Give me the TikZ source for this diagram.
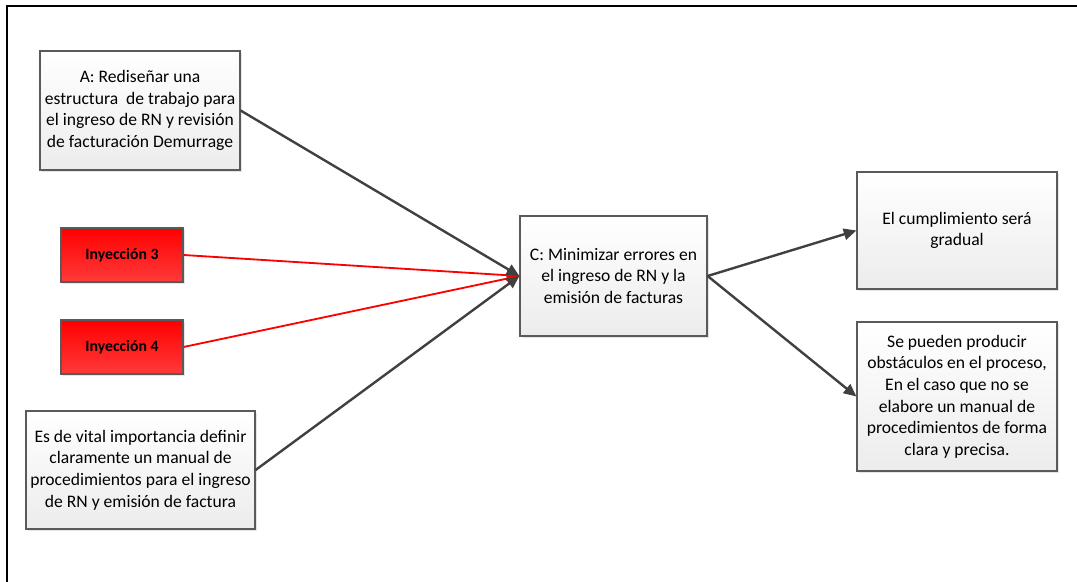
\documentclass[tikz,border=0pt]{standalone}
\usepackage{fontspec}
\setmainfont{Carlito}
\usetikzlibrary{arrows.meta, positioning, shadows}
\definecolor{boxline}{HTML}{5A5A5A}
\definecolor{boxlow}{HTML}{ECECEC}
\definecolor{injtop}{HTML}{FF0000}
\definecolor{injlow}{HTML}{FF3A3A}
\definecolor{arrowgray}{HTML}{404040}

\begin{document}
\begin{tikzpicture}[
    x=0.025cm, y=-0.025cm,
    box/.style={rectangle, draw=boxline, line width=0.8pt,
                top color=white, bottom color=boxlow,
                drop shadow={shadow xshift=1.2pt, shadow yshift=-1.2pt, fill=black!20},
                minimum width=#1, inner sep=2pt, align=center,
                font=\fontsize{12.5}{15.4}\selectfont},
    box/.default=5cm,
    inj/.style={rectangle, draw=boxline, line width=0.8pt,
                top color=injtop, bottom color=injlow,
                drop shadow={shadow xshift=1.2pt, shadow yshift=-1.2pt, fill=black!20},
                minimum width=3.05cm, minimum height=1.35cm,
                font=\fontsize{11.2}{13}\selectfont\bfseries},
    arrow/.style={-{Triangle[length=9pt,width=8pt]}, line width=1.7pt, color=arrowgray},
    redarrow/.style={-{Triangle[length=9pt,width=8pt]}, line width=1.3pt, color=red}
]

\useasboundingbox (0,0) rectangle (1077,582);
\draw[line width=1.6pt] (7,582) -- (7,6) -- (1077,6);

% inputs on the left
\node[box, minimum height=2.975cm] (redesign) at (140,110.5)
    {A: Rediseñar una\\estructura\ \ de trabajo para\\el ingreso de RN y revisión\\de facturación Demurrage};
\node[inj] (inj3) at (122,255) {Inyección 3};
\node[inj] (inj4) at (122,347) {Inyección 4};
\node[box=5.725cm, minimum height=2.95cm] (manual) at (140.5,470)
    {Es de vital importancia definir\\claramente un manual de\\procedimientos para el ingreso\\de RN y emisión de factura};

% goal in the middle
\node[box=4.675cm, minimum height=3cm] (goal) at (613.5,276)
    {C: Minimizar errores en\\el ingreso de RN y la\\emisión de facturas};

% outcomes on the right
\node[box, minimum height=2.925cm] (gradual) at (957,230.5)
    {El cumplimiento será\\gradual};
\node[box, minimum height=3.725cm] (risk) at (957,396.5)
    {Se pueden producir\\obstáculos en el proceso,\\En el caso que no se\\elabore un manual de\\procedimientos de forma\\clara y precisa.};

\draw[redarrow] (inj3.east) -- (goal.west);
\draw[redarrow] (inj4.east) -- (goal.west);
\draw[arrow] (redesign.east) -- (goal.west);
\draw[arrow] (manual.east) -- (goal.west);
\draw[arrow] (goal.east) -- (gradual.west);
\draw[arrow] (goal.east) -- (risk.west);

\end{tikzpicture}
\end{document}
